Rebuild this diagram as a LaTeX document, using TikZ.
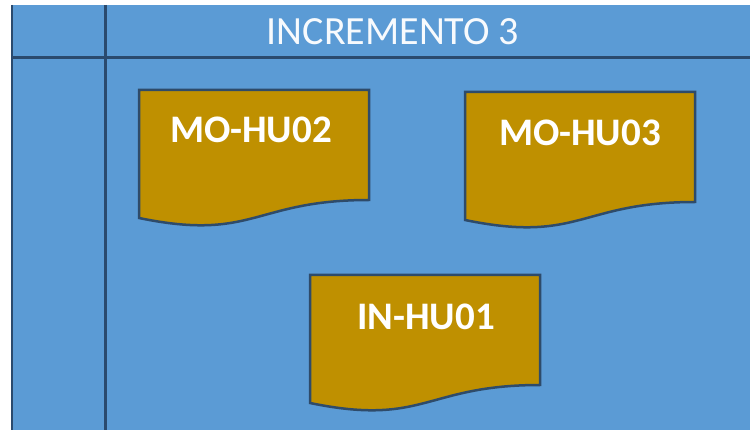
\documentclass[tikz,border=0pt]{standalone}
\usepackage{fontspec}
\setmainfont{Carlito}
\definecolor{bgblue}{HTML}{5B9BD5}
\definecolor{gridline}{HTML}{2A4A6E}
\definecolor{docgold}{HTML}{BF9000}
\definecolor{docedge}{HTML}{2E4B6A}
\tikzset{
  gridrule/.style={draw=gridline, line width=3pt},
  docshape/.style={fill=docgold, draw=docedge, line width=2.5pt, line join=miter},
  doclabel/.style={text=white, anchor=base, inner sep=0pt, font=\bfseries\fontsize{39}{46}\selectfont},
  titlelabel/.style={text=white!95!bgblue, anchor=base, inner sep=0pt, font=\fontsize{40}{48}\selectfont}
}
\newcommand\mydoc[4]{% name, left, top, text
  \draw[docshape] (#2,#3) -- ++(230,0) -- ++(0,110)
    .. controls ++(-115,0) and ++(115,23.7) .. ++(-230,18) -- cycle;
}
\begin{document}
\begin{tikzpicture}[x=1pt,y=-1pt]
\useasboundingbox (0,0) rectangle (750,430);
\fill[white] (0,0) rectangle (750,430);
\fill[bgblue] (11,5) rectangle (750,430);
% grid lines
\coordinate (vtop) at (105,5);
\coordinate (vbot) at (105,430);
\coordinate (hleft) at (11,57.5);
\coordinate (hright) at (750,57.5);
\coordinate (ltop) at (11.5,5);
\coordinate (lbot) at (11.5,430);
\draw[gridrule] (vtop) -- (vbot);
\draw[gridrule] (hleft) -- (hright);
\draw[draw=gridline, line width=2pt] (ltop) -- (lbot);
% title
\node[titlelabel] (title) at (393,45) {INCREMENTO 3};
% documents
\mydoc{d1}{139}{90}{}
\mydoc{d2}{465}{92}{}
\mydoc{d3}{310}{275}{}
\node[doclabel] (mohu02) at (251,143) {MO-HU02};
\node[doclabel] (mohu03) at (580,146) {MO-HU03};
\node[doclabel] (inhu01) at (426,330) {IN-HU01};
\end{tikzpicture}
\end{document}
